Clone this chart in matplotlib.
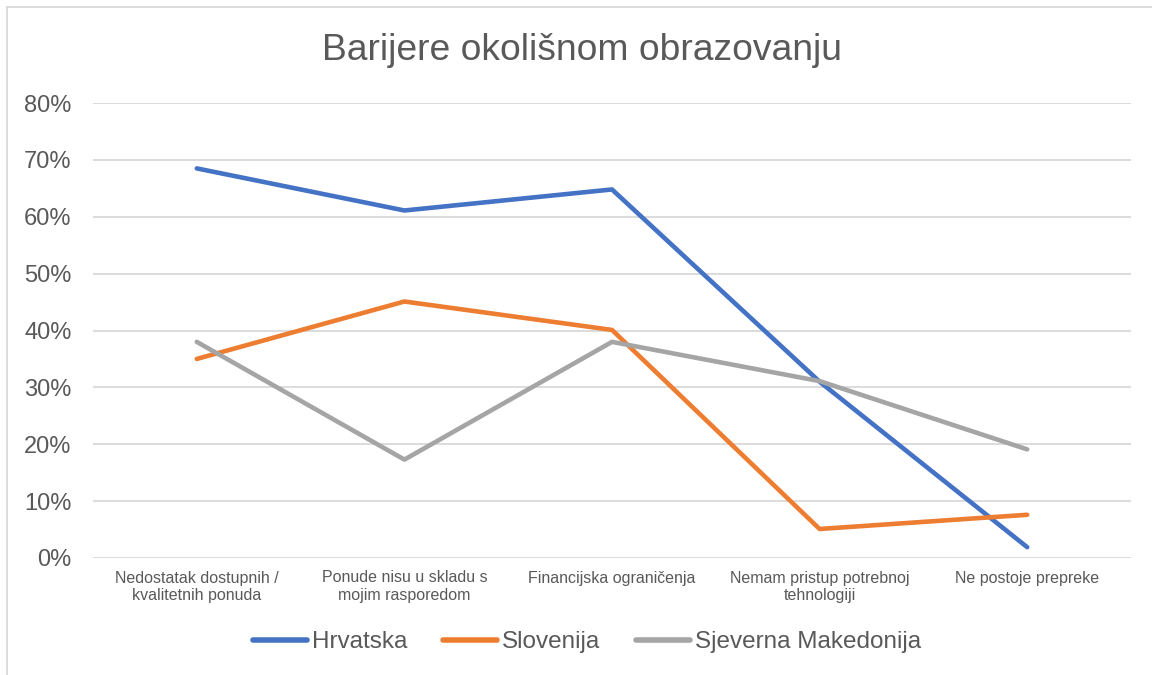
import numpy as np
import matplotlib.pyplot as plt
from matplotlib.lines import Line2D
from matplotlib.ticker import PercentFormatter

plt.rcParams['font.family'] = ['Liberation Sans', 'DejaVu Sans']

# Data
categories = ['Nedostatak dostupnih /\nkvalitetnih ponuda',
              'Ponude nisu u skladu s\nmojim rasporedom',
              'Financijska ograničenja',
              'Nemam pristup potrebnoj\ntehnologiji',
              'Ne postoje prepreke']
hrvatska = [68.5, 61.1, 64.8, 31.0, 1.9]
slovenija = [35.0, 45.1, 40.1, 5.1, 7.6]
makedonija = [38.0, 17.3, 38.0, 31.1, 19.1]

series = [('Hrvatska', hrvatska, '#4472C4'),
          ('Slovenija', slovenija, '#ED7D31'),
          ('Sjeverna Makedonija', makedonija, '#A5A5A5')]

text_col = '#595959'

fig = plt.figure(figsize=(11.52, 6.75), dpi=100)
ax = fig.add_axes([93 / 1152, 1 - 558 / 675, (1131 - 93) / 1152, (558 - 103) / 675])

x = np.arange(len(categories))
for name, vals, col in series:
    ax.plot(x, vals, color=col, lw=3.3, solid_capstyle='round', label=name, zorder=3)

ax.set_xlim(-0.5, len(categories) - 0.5)
ax.set_ylim(0, 80)
ax.set_yticks(np.arange(0, 81, 10))
ax.yaxis.set_major_formatter(PercentFormatter(decimals=0))
ax.grid(axis='y', color='#D9D9D9', lw=1.3)
ax.set_axisbelow(True)
for s in ax.spines.values():
    s.set_visible(False)
ax.tick_params(axis='both', length=0, colors=text_col)
ax.tick_params(axis='y', labelsize=17, pad=15.5)
ax.set_xticks(x)
ax.set_xticklabels(categories, fontsize=11.5, color=text_col, linespacing=1.2)
ax.tick_params(axis='x', pad=9)

fig.text(582 / 1152, 1 - 50 / 675, 'Barijere okolišnom obrazovanju', ha='center', va='center',
         fontsize=26.8, color=text_col)

handles = [Line2D([0], [0], color=c, lw=4, solid_capstyle='round') for _, _, c in series]
fig.legend(handles, [n for n, _, _ in series], loc='center', ncol=3,
           bbox_to_anchor=(587 / 1152, 1 - 642 / 675), frameon=False,
           fontsize=17.5, labelcolor=text_col, handlelength=2.2, handletextpad=0.2,
           columnspacing=1.5)

# chart border (top and left visible)
fig.add_artist(Line2D([7 / 1152, 1.0], [1 - 7 / 675, 1 - 7 / 675], color='#D9D9D9', lw=1.3))
fig.add_artist(Line2D([7 / 1152, 7 / 1152], [0, 1 - 7 / 675], color='#D9D9D9', lw=1.3))

fig.savefig('out.png', dpi=100)
